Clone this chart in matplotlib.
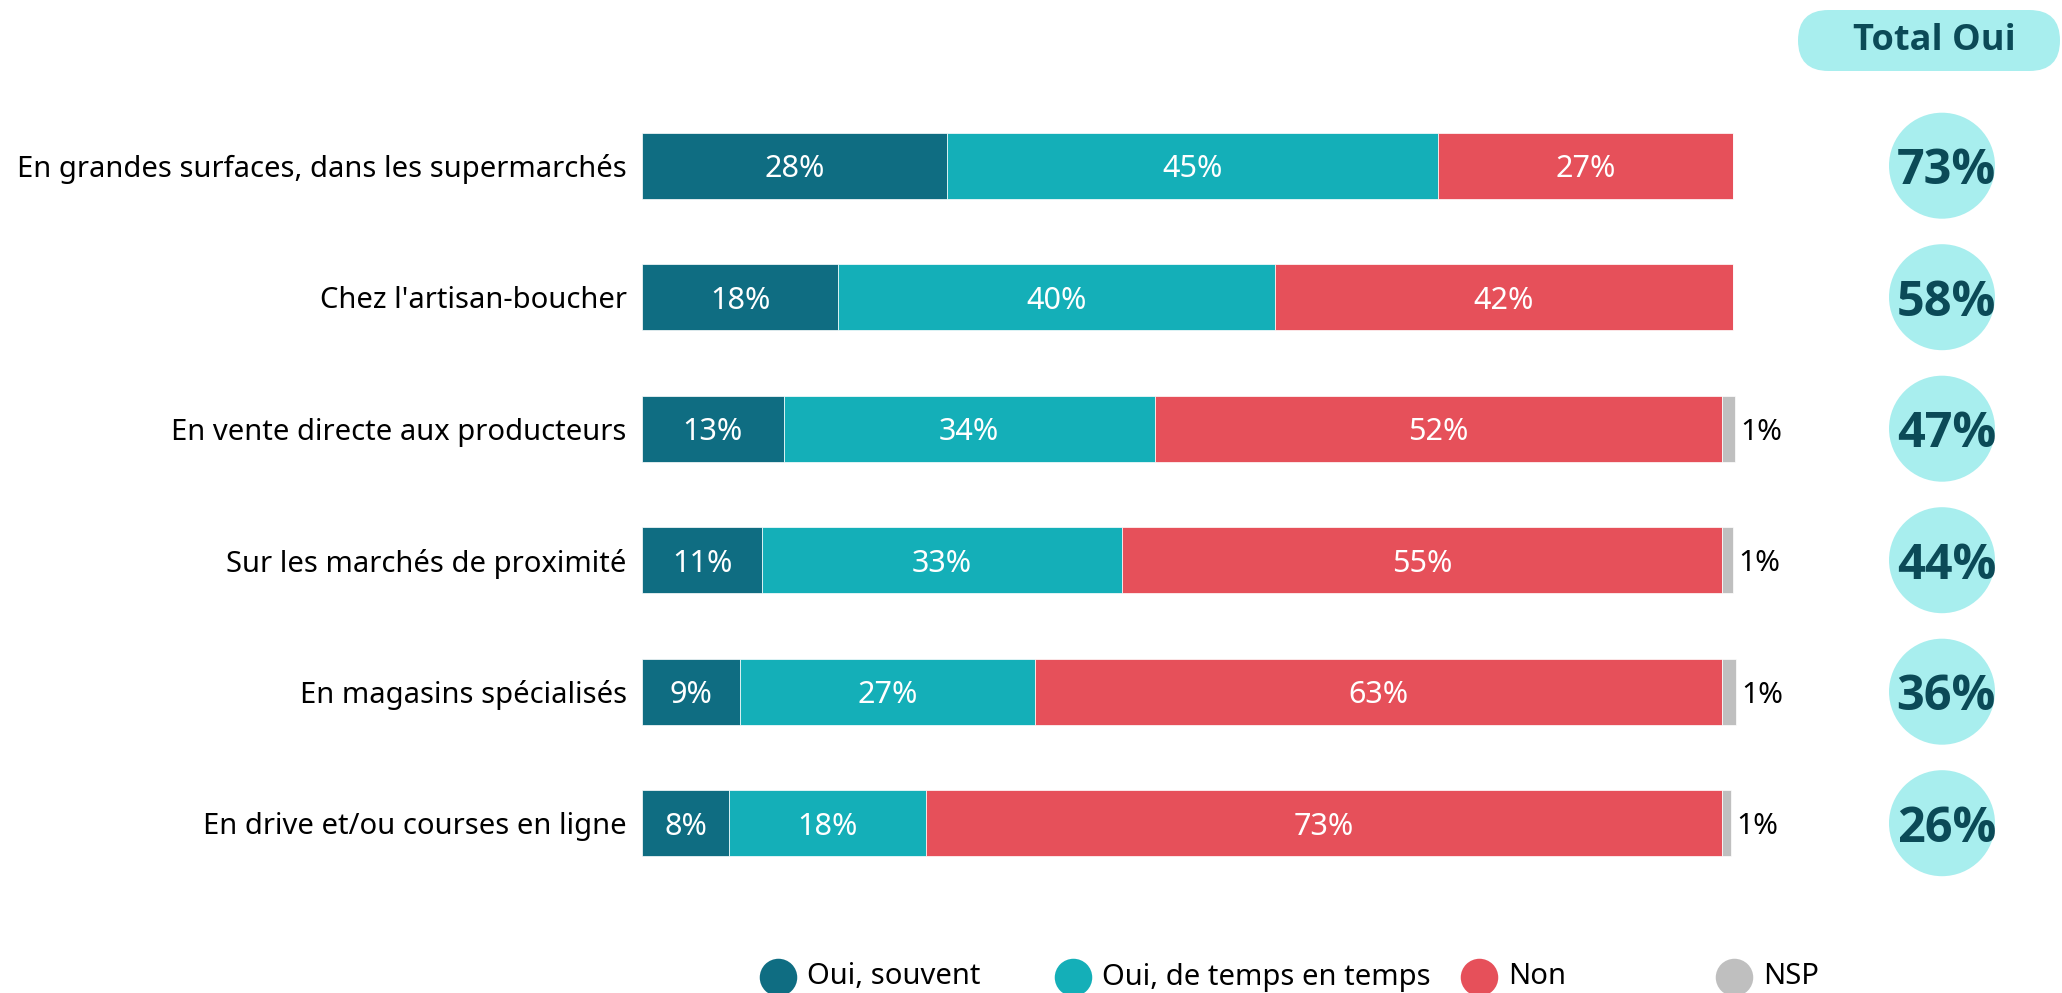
import matplotlib.pyplot as plt
from matplotlib.patches import FancyBboxPatch
from matplotlib.transforms import IdentityTransform
from matplotlib.lines import Line2D

plt.rcParams['font.family'] = ['Noto Sans', 'DejaVu Sans']
BOLD_FONT = ['Open Sans', 'DejaVu Sans']

# Data
categories = [
    "En grandes surfaces, dans les supermarchés",
    "Chez l'artisan-boucher",
    "En vente directe aux producteurs",
    "Sur les marchés de proximité",
    "En magasins spécialisés",
    "En drive et/ou courses en ligne",
]
oui_souvent = [28, 18, 13, 11, 9, 8]
oui_parfois = [45, 40, 34, 33, 27, 18]
non = [27, 42, 52, 55, 63, 73]
nsp = [0, 0, 1.2, 1.0, 1.3, 0.8]  # widths, shown rounded
total_oui = [73, 58, 47, 44, 36, 26]
series_names = ["Oui, souvent", "Oui, de temps en temps", "Non", "NSP"]
colors = ["#0F6D82", "#14AFB8", "#E6505A", "#BFBFBF"]

W, H = 2062, 993
fig = plt.figure(figsize=(W / 100, H / 100), dpi=100)
bar_left_px = 642
ax = fig.add_axes([bar_left_px / W, 0, 1 - bar_left_px / W, 1])

px_per_pct = 10.91  # 100% = 1091 px
row_px = 131.5
first_row_px = 165.7
ax.set_xlim(0, (W - bar_left_px) / px_per_pct)
ax.set_ylim((H - first_row_px) / row_px, -first_row_px / row_px)

y = list(range(len(categories)))
left = [0] * len(categories)
for name, vals, col in zip(series_names, [oui_souvent, oui_parfois, non, nsp], colors):
    ax.barh(y, vals, left=left, height=0.5, color=col, edgecolor="white", linewidth=0.5)
    for i, v in enumerate(vals):
        if v == 0:
            continue
        if name == "NSP":
            ax.text(left[i] + v + 0.5, y[i], f"{round(v)}%", ha="left", va="center_baseline",
                    fontsize=21.5, color="black")
        else:
            ax.text(left[i] + v / 2, y[i], f"{v}%", ha="center", va="center_baseline",
                    fontsize=22, color="white")
    left = [l + v for l, v in zip(left, vals)]

# Category labels
ax.set_yticks(y, categories)
ax.tick_params(axis="y", length=0, pad=11, labelsize=21, labelcolor="black")
for t in ax.get_yticklabels():
    t.set_verticalalignment("center_baseline")
ax.set_xticks([])
for s in ax.spines.values():
    s.set_visible(False)

# Total Oui circles
circle_x = (1942 - bar_left_px) / px_per_pct
ax.scatter([circle_x] * len(y), y, s=(106 * 0.72) ** 2, color="#A8EEEE",
           edgecolors="none", clip_on=False, zorder=3)
for i, t in enumerate(total_oui):
    ax.text(circle_x + 0.4, y[i], f"{t}%", ha="center", va="center_baseline", fontsize=35,
            fontweight="bold", family=BOLD_FONT, color="#0B4A57", zorder=4)

# Header pill
pill = FancyBboxPatch((1798, H - 71), 262, 61, boxstyle="round,pad=0,rounding_size=30.5",
                      facecolor="#A8EEEE", edgecolor="none", transform=IdentityTransform())
fig.add_artist(pill)
fig.text(1934 / W, 1 - 41 / H, "Total Oui", ha="center", va="center", fontsize=26,
         fontweight="bold", family=BOLD_FONT, color="#0B4A57")

# Legend
legend_x = [778, 1073, 1479, 1734]
legend_y = 1 - 977 / H
for lx, name, col in zip(legend_x, series_names, colors):
    fig.add_artist(Line2D([lx / W], [legend_y], marker="o", markersize=27, color=col,
                          markeredgecolor="none", linestyle="none", transform=fig.transFigure))
    fig.text((lx + 29) / W, legend_y, name, ha="left", va="center", fontsize=21, color="black")

fig.savefig("out.png", dpi=100)
